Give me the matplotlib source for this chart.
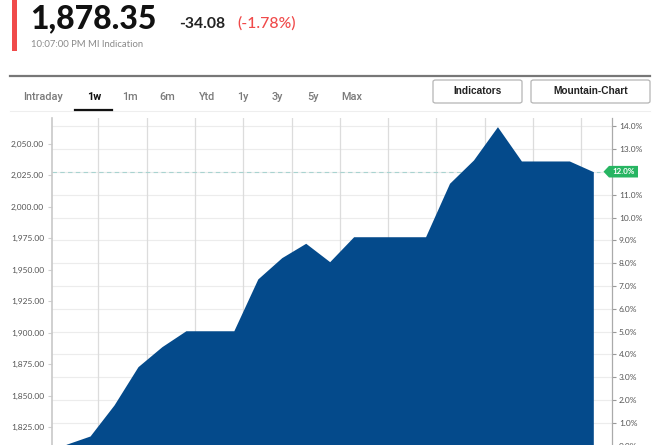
import matplotlib

matplotlib.use("Agg")
import matplotlib.pyplot as plt
from matplotlib.patches import FancyBboxPatch, Polygon, Rectangle
from matplotlib.ticker import FuncFormatter

W, H = 660, 445

# price series (1 week)
values = [
    1811.5, 1818.1, 1842.7, 1873.1, 1889.0, 1901.6, 1901.6, 1901.6,
    1942.7, 1959.6, 1971.0, 1956.4, 1976.2, 1976.2, 1976.2, 1976.2,
    2018.6, 2037.1, 2063.5, 2036.3, 2036.3, 2036.3, 2027.8,
]
base_value = 1810.4
left_ticks = [1825, 1850, 1875, 1900, 1925, 1950, 1975, 2000, 2025, 2050]
pct_ticks = list(range(0, 15))

price_text = "1,878.35"
change_text = "-34.08"
change_pct_text = "(-1.78%)"
time_text = "10:07:00 PM MI Indication"
tabs = ["Intraday", "1w", "1m", "6m", "Ytd", "1y", "3y", "5y", "Max"]
tab_x = [43, 94, 130, 167, 207, 243, 277, 313, 352]
buttons = ["Indicators", "Mountain-Chart"]

BLUE = "#044a8b"
RED = "#f04a4a"
GREEN = "#27b562"
GRID = "#ececec"


def fx(x):
    return x / W


def fy(y):
    return 1 - y / H


fig = plt.figure(figsize=(W / 100, H / 100), dpi=100)

# ---- header -------------------------------------------------------------
fig.add_artist(Rectangle((fx(12), fy(51)), 5 / W, 51 / H,
                         transform=fig.transFigure, color=RED, lw=0))
fig.text(fx(30), fy(28.5), price_text, fontsize=23, fontweight="black",
         family="Lato", color="#111", va="baseline")
fig.text(fx(179), fy(27.5), change_text, fontsize=11.3, fontweight="bold",
         family="Lato", color="#222", va="baseline")
fig.text(fx(237), fy(27.5), change_pct_text, fontsize=11.3,
         family="Lato", fontweight="medium", color=RED, va="baseline")
fig.text(fx(31), fy(47), time_text, fontsize=6.8, family="Lato",
         color="#8a8a8a", va="baseline")

# separators
fig.add_artist(plt.Line2D([fx(10), fx(650)], [fy(75.5), fy(75.5)],
                          transform=fig.transFigure, color="#777", lw=1.6))
fig.add_artist(plt.Line2D([fx(10), fx(650)], [fy(110.7), fy(110.7)],
                          transform=fig.transFigure, color="#eeeeee", lw=0.8))

# period tabs
for label, x in zip(tabs, tab_x):
    active = label == "1w"
    fig.text(fx(x), fy(97.5), label, fontsize=7.8, family="Roboto",
             fontweight="bold" if active else "medium",
             color="#111" if active else "#7a7a7a",
             ha="center", va="center")
fig.add_artist(plt.Line2D([fx(75), fx(112)], [fy(109.5), fy(109.5)],
                          transform=fig.transFigure, color="#111", lw=1.6))

# buttons
for label, (x0, x1) in zip(buttons, [(433, 522), (531, 650)]):
    fig.add_artist(FancyBboxPatch((fx(x0), fy(103)), (x1 - x0) / W, 23 / H,
                                  boxstyle="round,pad=0,rounding_size=0.004",
                                  transform=fig.transFigure, fc="white",
                                  ec="#b5b5b5", lw=0.9))
    fig.text(fx((x0 + x1) / 2), fy(91.5), label, fontsize=7.3,
             family="Liberation Sans", fontweight="bold", color="#222",
             ha="center", va="center")

# ---- chart --------------------------------------------------------------
ax_left, ax_right, ax_top, ax_bottom = 51.7, 612, 118, 460
ax = fig.add_axes([fx(ax_left), fy(ax_bottom), (ax_right - ax_left) / W,
                   (ax_bottom - ax_top) / H])

idx = list(range(len(values)))
px_per_val = 1.2604
y_lo = 1825 - (ax_bottom - 427.3) / px_per_val
y_hi = 1825 + (427.3 - ax_top) / px_per_val
ax.set_xlim(-0.6, 22.78)
ax.set_ylim(y_lo, y_hi)

# grid (horizontal lines follow the % axis)
for p in pct_ticks:
    ax.axhline(base_value * (1 + p / 100), color=GRID, lw=0.8, zorder=0)
for k in range(11):
    ax.axvline(1.35 + 2.015 * k, color="#dcdcdc", lw=0.9, zorder=0)

ax.fill_between(idx, values, y_lo - 50, color=BLUE, lw=0, zorder=2)

# last-value dashed line
ax.axhline(values[-1], xmin=0, xmax=(600 - ax_left) / (ax_right - ax_left),
           color="#a9d3d0", lw=0.8, ls=(0, (4, 3)), zorder=1)

ax.set_yticks(left_ticks)
ax.yaxis.set_major_formatter(FuncFormatter(lambda v, _: f"{v:,.2f}"))
ax.tick_params(axis="y", labelsize=6.0, colors="#555", length=3,
               color="#cfcfcf", pad=2.5)
for lbl in ax.get_yticklabels():
    lbl.set_family("Lato")
ax.set_xticks([])
for side in ("top", "bottom", "right"):
    ax.spines[side].set_visible(False)
ax.spines["left"].set_color("#c8c8c8")
ax.spines["left"].set_linewidth(1.2)

last_pct = (values[-1] / base_value - 1) * 100

ax2 = ax.twinx()
ax2.set_ylim((y_lo / base_value - 1) * 100, (y_hi / base_value - 1) * 100)
ax2.set_yticks(pct_ticks)
# the tick under the current-value tag is covered by it
ax2.yaxis.set_major_formatter(FuncFormatter(
    lambda v, _: "" if abs(v - round(last_pct)) < 0.01 else f"{v:.1f}%"))
ax2.tick_params(axis="y", labelsize=6.0, colors="#555", length=3,
                color="#999", pad=2)
for lbl in ax2.get_yticklabels():
    lbl.set_family("Lato")
for side in ("top", "bottom", "left"):
    ax2.spines[side].set_visible(False)
ax2.spines["right"].set_color("#aaaaaa")
ax2.spines["right"].set_linewidth(0.9)

# current value marker on the right axis
y_disp = ax.transData.transform((0, values[-1]))[1]
ty = y_disp / fig.bbox.height
tag = Polygon([(fx(603.5), ty), (fx(609), ty + 5.8 / H), (fx(638), ty + 5.8 / H),
               (fx(638), ty - 5.8 / H), (fx(609), ty - 5.8 / H)],
              closed=True, transform=fig.transFigure, fc=GREEN, ec="none",
              zorder=5)
fig.add_artist(tag)
fig.text(fx(623.5), ty, f"{last_pct:.1f}%", fontsize=5.8, family="Lato",
         fontweight="bold", color="white", ha="center", va="center", zorder=6)

fig.savefig("out.png", dpi=100)
